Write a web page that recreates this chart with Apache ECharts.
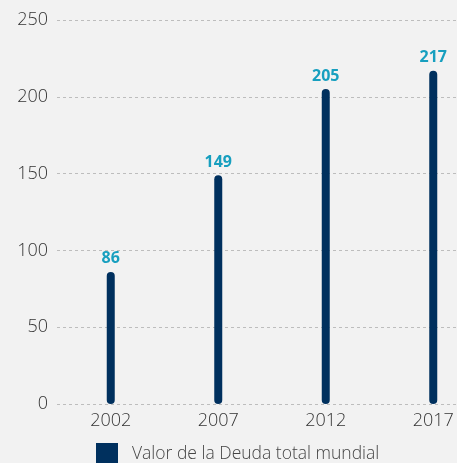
<!DOCTYPE html>
<html><head><meta charset="utf-8">
<script src="https://cdn.jsdelivr.net/npm/echarts@6/dist/echarts.min.js"></script>
<style>html,body{margin:0;padding:0;background:#f2f2f2;}#c{width:457px;height:463px;}</style>
</head><body><div id="c"></div>
<script>
const categories = ['2002','2007','2012','2017'];
const deuda = [86, 149, 205, 217];
const yTicks = [0, 50, 100, 150, 200, 250];
const seriesName = 'Valor de la Deuda total mundial';

const chart = echarts.init(document.getElementById('c'));
chart.setOption({
  backgroundColor: '#f2f2f2',
  animation: false,
  textStyle: { fontFamily: 'Open Sans' },
  grid: { left: 57, top: 20, width: 430, height: 384, containLabel: false, outerBoundsMode: 'none' },
  legend: {
    top: 438, left: 91,
    itemWidth: 22, itemHeight: 22, itemGap: 10,
    icon: 'rect',
    textStyle: { fontSize: 17.5, color: '#444', fontWeight: 300, fontFamily: 'Open Sans', padding: [0,0,0,9] },
    data: [seriesName]
  },
  xAxis: {
    type: 'category', data: categories,
    axisLine: { show: false }, axisTick: { show: false },
    axisLabel: { fontSize: 18, color: '#333', fontWeight: 300, margin: 8 }
  },
  yAxis: {
    type: 'value', min: yTicks[0], max: yTicks[yTicks.length-1], interval: 50,
    axisLine: { show: false }, axisTick: { show: false },
    axisLabel: { fontSize: 18, color: '#333', fontWeight: 300, margin: 9 },
    splitLine: { lineStyle: { type: [3,3], color: '#bdbdbd', width: 1 } }
  },
  series: [{
    name: seriesName, type: 'bar', data: deuda, barWidth: 8,
    itemStyle: { color: '#00305e', borderRadius: 4 },
    label: { show: true, position: 'top', distance: 5, color: '#179fbf', fontWeight: 'bold', fontSize: 16 }
  }]
});
</script></body></html>
